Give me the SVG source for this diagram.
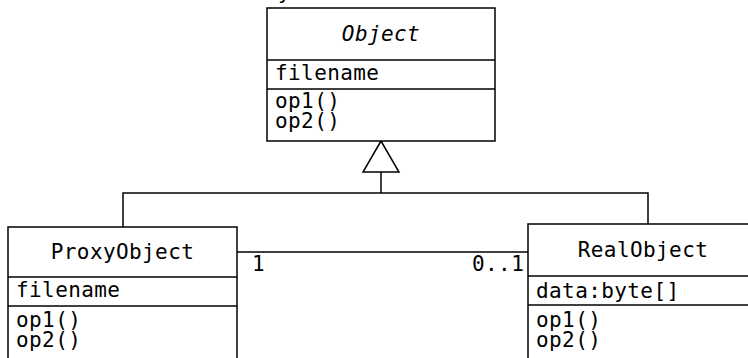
<svg xmlns="http://www.w3.org/2000/svg" width="748" height="358" viewBox="0 0 748 358">
<style>
.box{fill:#fff;stroke:#000;stroke-width:1.5}
.ln{fill:none;stroke:#000;stroke-width:1.5}
text{font-family:"DejaVu Sans Mono","Liberation Mono",monospace;font-size:21px;letter-spacing:0.4px;fill:#000}
.c{text-anchor:middle}
.i{font-style:italic}
</style>
<rect width="748" height="358" fill="#fff"/>
<text x="278" y="-1">y</text>
<g id="connectors">
<polyline class="ln" points="123,227 123,193 648,193 648,224"/>
<line class="ln" x1="381" y1="172" x2="381" y2="193"/>
<polygon class="box" points="381,141 363,172 399,172"/>
<line class="ln" x1="237" y1="252" x2="528" y2="252"/>
<text x="252" y="271">1</text>
<text x="472" y="271">0..1</text>
</g>
<g id="Object">
<rect class="box" x="267" y="8" width="228" height="133"/>
<line class="ln" x1="267" y1="60" x2="495" y2="60"/>
<line class="ln" x1="267" y1="89" x2="495" y2="89"/>
<text class="c i" x="381" y="41">Object</text>
<text x="275" y="80">filename</text>
<text x="275" y="108">op1()</text>
<text x="275" y="128">op2()</text>
</g>
<g id="ProxyObject">
<rect class="box" x="8" y="227" width="229" height="140"/>
<line class="ln" x1="8" y1="277" x2="237" y2="277"/>
<line class="ln" x1="8" y1="306" x2="237" y2="306"/>
<text class="c" x="122.5" y="259">ProxyObject</text>
<text x="16" y="297">filename</text>
<text x="16" y="327">op1()</text>
<text x="16" y="347">op2()</text>
</g>
<g id="RealObject">
<rect class="box" x="528" y="224" width="229" height="140"/>
<line class="ln" x1="528" y1="276" x2="757" y2="276"/>
<line class="ln" x1="528" y1="305" x2="757" y2="305"/>
<text class="c" x="643" y="257">RealObject</text>
<text x="536" y="298">data:byte[]</text>
<text x="536" y="327">op1()</text>
<text x="536" y="347">op2()</text>
</g>
</svg>
